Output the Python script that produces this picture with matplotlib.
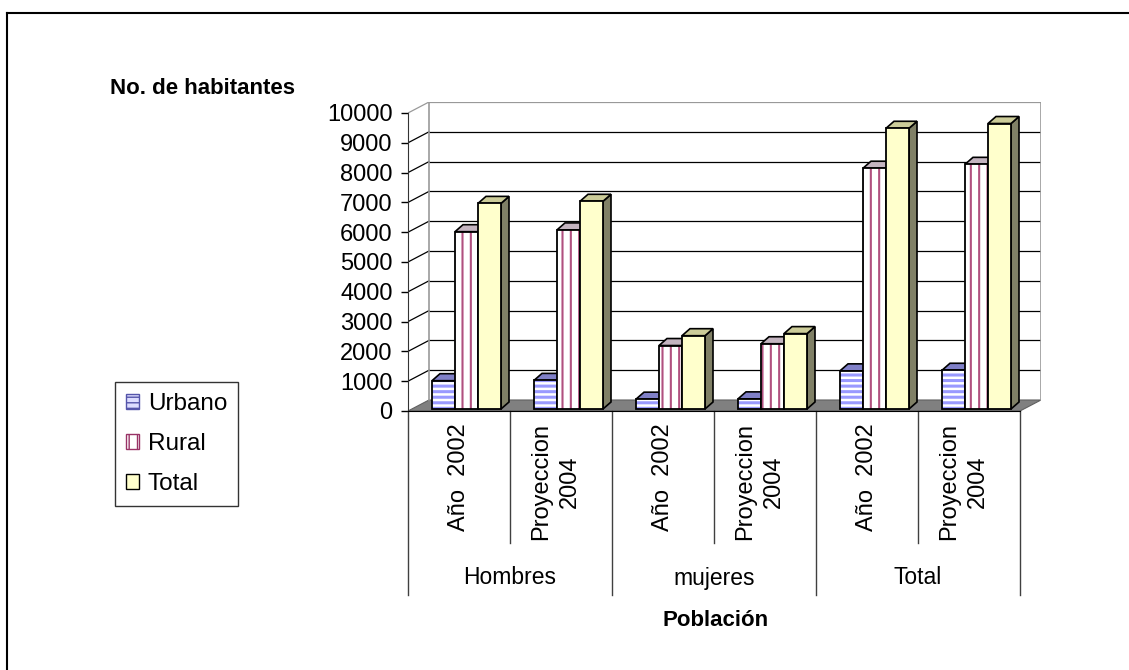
import matplotlib
matplotlib.use("Agg")
import matplotlib.pyplot as plt
from matplotlib.patches import Polygon, Patch
from matplotlib.lines import Line2D

plt.rcParams['font.family'] = ['Liberation Sans', 'DejaVu Sans']

# datos
grupos = ["Hombres", "mujeres", "Total"]
periodos = ["Año  2002", "Proyeccion\n2004", "Año  2002", "Proyeccion\n2004", "Año  2002", "Proyeccion\n2004"]
series = ["Urbano", "Rural", "Total"]
urbano = [950, 960, 330, 340, 1280, 1300]
rural = [5950, 6010, 2130, 2190, 8080, 8210]
total = [6900, 6970, 2460, 2530, 9420, 9580]
valores = [urbano, rural, total]

# estilos (frente, tapa, lado, trama, color trama)
estilos = [
    dict(face="white", hatchcol="#9999FF", hatch="---", top="#8080C8", side="#4D4D99", hlw=2.2),
    dict(face="white", hatchcol="#B0507F", hatch="||", top="#C4B4C0", side="#806070", hlw=1.5),
    dict(face="#FFFFCC", hatchcol=None, hatch=None, top="#CCCC99", side="#808066", hlw=1.0),
]

W, H = 1129, 670
fig = plt.figure(figsize=(W / 100, H / 100), dpi=100)

# ejes: frente x 408..1021 (6 categorias), y 0 en 411, 10000 en 113
PX = 102.0          # px por categoria
PY = 0.0298         # px por unidad
DX = 21 / PX        # profundidad del piso
DY = 11 / PY
left, right, y0, ytop = 408, 408 + (6 + DX) * PX, 411, 411 - (10000 + DY) * PY
ax = fig.add_axes([left / W, 1 - y0 / H, (right - left) / W, (y0 - ytop) / H])
ax.set_xlim(0, 6 + DX)
ax.set_ylim(0, 10000 + DY)
ax.patch.set_visible(False)

n = len(periodos)

# piso
ax.add_patch(Polygon([(0, 0), (n, 0), (n + DX, DY), (DX, DY)], closed=True,
                     facecolor="#808080", edgecolor="#606060", lw=0.8, zorder=1))

# cuadricula en pared de fondo y pared izquierda
for v in range(1000, 10001, 1000):
    col = "#999999" if v == 10000 else "black"
    ax.plot([DX, n + DX], [v + DY, v + DY], color=col, lw=0.9, zorder=1)
    ax.plot([0, DX], [v, v + DY], color=col, lw=0.9, zorder=1)
ax.plot([DX, DX], [DY, 10000 + DY], color="#999999", lw=1.2, zorder=1)
ax.plot([n + DX, n + DX], [DY, 10000 + DY], color="#999999", lw=1.2, zorder=1)

# barras 3D
OFF = 24 / PX
BW = 23 / PX
BASE = 2 / PY
BDX = 8 / PX
BDY = 7 / PY
z = 3
for i in range(n):
    for k, vals in enumerate(valores):
        st = estilos[k]
        x0 = i + OFF + k * BW
        top = BASE + vals[i]
        lado = [(x0 + BW, BASE), (x0 + BW + BDX, BASE + BDY), (x0 + BW + BDX, top + BDY), (x0 + BW, top)]
        tapa = [(x0, top), (x0 + BW, top), (x0 + BW + BDX, top + BDY), (x0 + BDX, top + BDY)]
        ax.add_patch(Polygon(lado, closed=True, facecolor=st["side"], edgecolor="black", lw=1.2, zorder=z))
        ax.add_patch(Polygon(tapa, closed=True, facecolor=st["top"], edgecolor="black", lw=1.2, zorder=z + 1))
        if st["hatch"]:
            with plt.rc_context({"hatch.linewidth": st["hlw"]}):
                ax.bar(x0, vals[i], width=BW, bottom=BASE, align="edge", color=st["face"],
                       edgecolor=st["hatchcol"], hatch=st["hatch"], lw=0, zorder=z + 2)
        else:
            ax.bar(x0, vals[i], width=BW, bottom=BASE, align="edge", color=st["face"], lw=0, zorder=z + 2)
        ax.bar(x0, vals[i], width=BW, bottom=BASE, align="edge", fill=False,
               edgecolor="black", lw=1.3, zorder=z + 3)
        z += 4

# ejes
for s in ["top", "right"]:
    ax.spines[s].set_visible(False)
ax.spines["left"].set_bounds(0, 10000)
ax.spines["left"].set_color("#333333")
ax.spines["bottom"].set_bounds(0, n)
ax.spines["bottom"].set_zorder(200)
ax.set_yticks(range(0, 10001, 1000))
ax.tick_params(axis="y", length=5, width=1, pad=6, labelsize=17, colors="black")
ax.set_xticks([])

# etiquetas de categoria jerarquicas
tr = ax.get_xaxis_transform()
sub_bot = -(543 - y0) / (y0 - ytop)
grp_bot = -(595 - y0) / (y0 - ytop)
for i in range(n + 1):
    yb = grp_bot if i % 2 == 0 else sub_bot
    ax.plot([i, i], [0, yb], transform=tr, color="#404040", lw=1, clip_on=False)
lab_top = -(423 - y0) / (y0 - ytop)
for i, p in enumerate(periodos):
    ax.text(i + 0.45 if "\n" in p else i + 0.5, lab_top, p, transform=tr, rotation=90,
            ha="center", va="top", multialignment="center", fontsize=17, linespacing=1.4)
grp_y = -(578 - y0) / (y0 - ytop)
for j, g in enumerate(grupos):
    ax.text(2 * j + 1, grp_y, g, transform=tr, ha="center", va="center", fontsize=16.5)

fig.text(716 / W, 1 - 620 / H, "Población", ha="center", va="center", fontsize=16, fontweight="bold")
fig.text(203 / W, 1 - 88 / H, "No. de habitantes", ha="center", va="center", fontsize=16, fontweight="bold")

# leyenda
handles = [
    Patch(facecolor="#DDDDFF", edgecolor="#5555AA", hatch="---", label="Urbano"),
    Patch(facecolor="white", edgecolor="#993366", hatch="||", label="Rural"),
    Patch(facecolor="#FFFFCC", edgecolor="black", label="Total"),
]
leg = fig.legend(handles=handles, loc="upper left", bbox_to_anchor=(115 / W, 1 - 382 / H),
                 fontsize=17.5, frameon=True, fancybox=False, handlelength=0.55, handleheight=0.55,
                 handletextpad=0.35, labelspacing=0.75, borderpad=0.45, borderaxespad=0)
leg.get_frame().set_edgecolor("black")
leg.get_frame().set_linewidth(1)

# borde del grafico
fig.add_artist(Line2D([7 / W, 1], [1 - 13 / H, 1 - 13 / H], transform=fig.transFigure, color="black", lw=1.5))
fig.add_artist(Line2D([7 / W, 7 / W], [0, 1 - 13 / H], transform=fig.transFigure, color="black", lw=1.5))

fig.savefig("out.png", dpi=100)
